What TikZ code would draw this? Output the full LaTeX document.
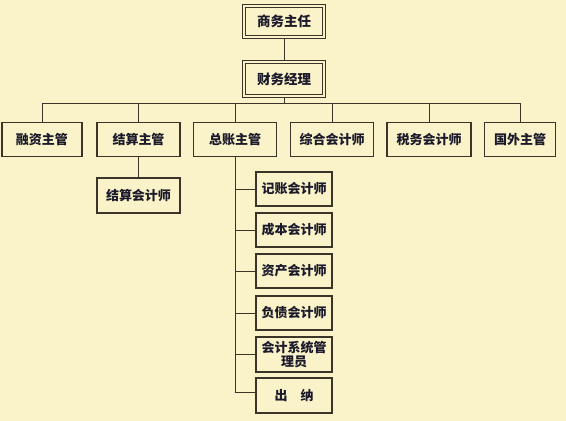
\documentclass[tikz,border=0pt]{standalone}
\usepackage{fontspec}
\setmainfont{Noto Sans CJK SC}
\usetikzlibrary{calc}
\definecolor{bg}{HTML}{FAF2C8}
\definecolor{ln}{HTML}{3A3528}
\definecolor{tx}{HTML}{1A1A2A}
\begin{document}
\begin{tikzpicture}[x=1pt,y=-1pt,
  box/.style={draw=ln,line width=1.1pt,fill=bg,text=tx,font=\fontsize{13}{14.5}\selectfont\bfseries,inner sep=0pt,align=center},
  topbox/.style={box,line width=1.4pt,double=bg,double distance=1.8pt,font=\fontsize{13.5}{15}\selectfont\bfseries},
  conn/.style={draw=ln,line width=1pt}]
\fill[bg] (0,0) rectangle (566,421);
\useasboundingbox (0,0) rectangle (566,421);
% top
\node[topbox,minimum width=80pt,minimum height=31pt] (a) at (284,21.5) {商务主任};
\node[topbox,minimum width=80pt,minimum height=34pt] (b) at (284,79) {财务经理};
% row
\node[box,minimum width=80pt,minimum height=34pt] (r1) at (42,139.5) {融资主管};
\node[box,minimum width=83pt,minimum height=34pt] (r2) at (138.5,139.5) {结算主管};
\node[box,minimum width=83pt,minimum height=34pt] (r3) at (235,139.5) {总账主管};
\node[box,minimum width=83pt,minimum height=34pt] (r4) at (332,139.5) {综合会计师};
\node[box,minimum width=84pt,minimum height=34pt] (r5) at (429,139.5) {税务会计师};
\node[box,minimum width=71pt,minimum height=34pt] (r6) at (520,139.5) {国外主管};
\node[box,minimum width=83pt,minimum height=35pt] (s1) at (138.5,195.5) {结算会计师};
% column
\node[box,minimum width=76pt,minimum height=34pt] (c1) at (294,189) {记账会计师};
\node[box,minimum width=76pt,minimum height=34pt] (c2) at (294,230) {成本会计师};
\node[box,minimum width=76pt,minimum height=34pt] (c3) at (294,271) {资产会计师};
\node[box,minimum width=76pt,minimum height=34pt] (c4) at (294,313) {负债会计师};
\node[box,minimum width=76pt,minimum height=35pt,font=\fontsize{13}{14.5}\selectfont\bfseries] (c5) at (294,354.5) {会计系统管\\理员};
\node[box,minimum width=76pt,minimum height=35pt] (c6) at (294,395.5) {出\hspace{1em}纳};
% connectors
\draw[conn] (a.south) -- (b.north);
\coordinate (bus) at (284,103);
\draw[conn] (b.south) -- (bus);
\draw[conn] (r1.north |- bus) -- (r6.north |- bus);
\foreach \n in {r1,r2,r3,r4,r5,r6} \draw[conn] (\n.north |- bus) -- (\n.north);
\draw[conn] (r2.south) -- (s1.north);
\coordinate (tend) at ($(r3.south |- c6.west)+(0,-3)$);
\draw[conn] (r3.south) -- (tend);
\foreach \n in {c1,c2,c3,c4,c5} \draw[conn] (r3.south |- \n.west) -- (\n.west);
\draw[conn] (tend) -- (tend -| c6.west);
\end{tikzpicture}
\end{document}
